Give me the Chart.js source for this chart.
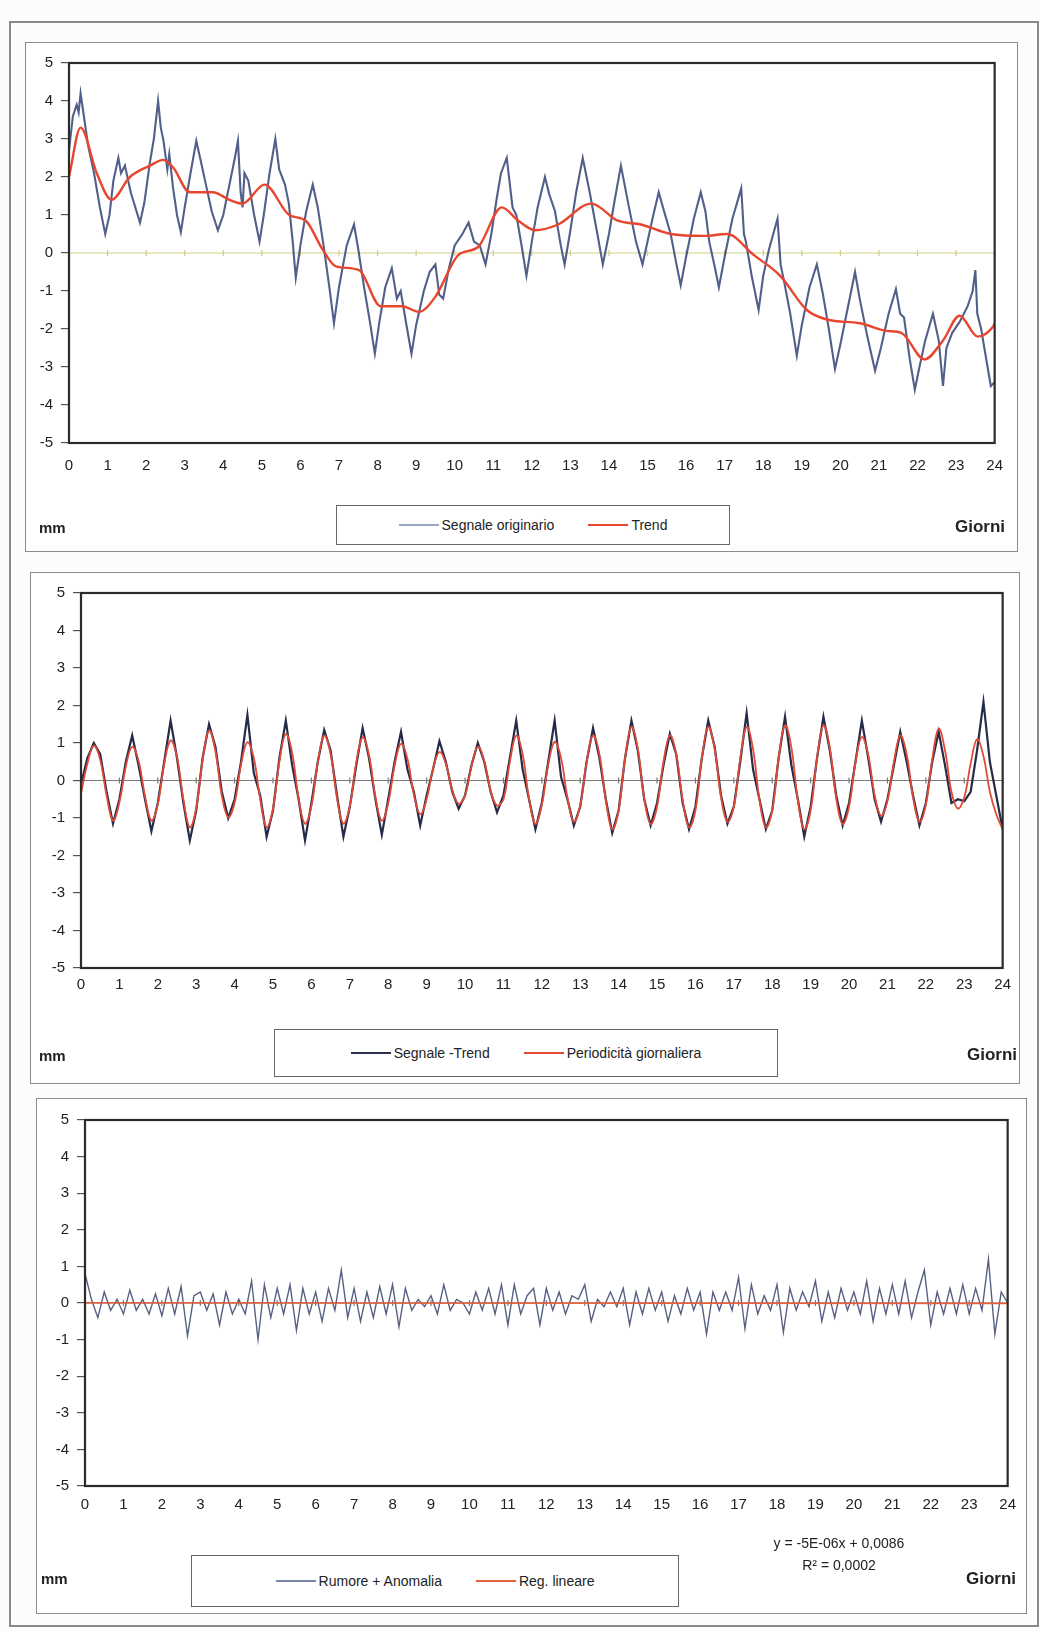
<!DOCTYPE html>
<html>
<head>
<meta charset="utf-8">
<script src="https://cdn.jsdelivr.net/npm/chart.js@4.4.0/dist/chart.umd.min.js"></script>
<style>
	body { margin: 0; background: #fcfcfa; width: 1040px; height: 1632px; position: relative; font-family: "Liberation Sans", Arial, sans-serif; }
	.cornice-esterna { position: absolute; left: 9px; top: 21px; width: 1026px; height: 1602px; border: 2px solid #8a8a8a; }
	.pannello { position: absolute; border: 1.5px solid #8c8c8c; background: #fff; }
	.pannello canvas { position: absolute; left: 0; top: 0; }
	.mm { position: absolute; font-weight: bold; font-size: 15px; color: #222; }
	.giorni { position: absolute; font-weight: bold; font-size: 17px; color: #222; text-align: right; }
	.legenda { position: absolute; border: 1.5px solid #666; background: #fff; display: flex; align-items: center; justify-content: center; gap: 34px;
		font-family: "Liberation Sans Narrow", "Liberation Sans", Arial, sans-serif; font-size: 14px; color: #222; }
	.voce { display: flex; align-items: center; gap: 3px; }
	.campione { display: inline-block; width: 40px; height: 0; border-top: 2px solid #000; }
	.equazione { position: absolute; font-family: "Liberation Sans Narrow", "Liberation Sans", Arial, sans-serif; font-size: 14px; color: #222; text-align: center; width: 200px; }
</style>
</head>
<body>
<div class="cornice-esterna"></div>

<div class="pannello" id="p1" style="left:25px; top:42px; width:991px; height:508px;">
	<canvas id="grafico1" width="991" height="508"></canvas>
	<div class="mm" style="left:13px; top:476px;">mm</div>
	<div class="legenda" style="left:310px; top:462px; width:392px; height:38px;">
		<span class="voce"><span class="campione" style="border-color:#9aa6c8"></span>Segnale originario</span>
		<span class="voce"><span class="campione" style="border-color:#e8462e"></span>Trend</span>
	</div>
	<div class="giorni" style="right:12px; top:474px;">Giorni</div>
</div>

<div class="pannello" id="p2" style="left:30px; top:572px; width:988px; height:510px;">
	<canvas id="grafico2" width="988" height="510"></canvas>
	<div class="mm" style="left:8px; top:474px;">mm</div>
	<div class="legenda" style="left:243px; top:456px; width:502px; height:46px;">
		<span class="voce"><span class="campione" style="border-color:#2a3050; border-top-width:2.5px"></span>Segnale -Trend</span>
		<span class="voce"><span class="campione" style="border-color:#e04a36"></span>Periodicità giornaliera</span>
	</div>
	<div class="giorni" style="right:2px; top:472px;">Giorni</div>
</div>

<div class="pannello" id="p3" style="left:36px; top:1098px; width:989px; height:514px;">
	<canvas id="grafico3" width="989" height="514"></canvas>
	<div class="mm" style="left:4px; top:471px;">mm</div>
	<div class="legenda" style="left:154px; top:456px; width:486px; height:50px;">
		<span class="voce"><span class="campione" style="border-color:#7a86a8"></span>Rumore + Anomalia</span>
		<span class="voce"><span class="campione" style="border-color:#e8603a"></span>Reg. lineare</span>
	</div>
	<div class="equazione" style="left:702px; top:436px;">y = -5E-06x + 0,0086</div>
	<div class="equazione" style="left:702px; top:458px;">R² = 0,0002</div>
	<div class="giorni" style="right:10px; top:470px;">Giorni</div>
</div>

<script>
// etichette assi
const etichetteGiorni = ['0','1','2','3','4','5','6','7','8','9','10','11','12','13','14','15','16','17','18','19','20','21','22','23','24'];
const ticksY = [5, 4, 3, 2, 1, 0, -1, -2, -3, -4, -5];

// grafico 1: segnale originario (giorni / mm)
const segnaleX = [0.0,0.1,0.2,0.25,0.3,0.4,0.5,0.65,0.8,0.94,1.05,1.15,1.28,1.35,1.45,1.6,1.75,1.84,1.95,2.1,2.2,2.31,2.38,2.45,2.55,2.6,2.7,2.8,2.9,
	3.0,3.15,3.3,3.4,3.55,3.7,3.86,4.0,4.2,4.3,4.38,4.45,4.5,4.55,4.65,4.8,4.94,5.05,5.2,5.35,5.45,5.6,5.7,5.8,5.88,6.0,6.15,6.32,6.45,6.6,6.75,6.87,
	7.0,7.2,7.39,7.5,7.65,7.8,7.93,8.05,8.2,8.37,8.5,8.6,8.75,8.88,9.0,9.2,9.35,9.5,9.6,9.7,9.85,10.0,10.2,10.36,10.5,10.65,10.8,10.95,
	11.1,11.2,11.35,11.5,11.6,11.75,11.86,12.0,12.15,12.34,12.45,12.6,12.75,12.85,13.0,13.15,13.32,13.5,13.7,13.84,14.0,14.15,14.31,14.5,14.7,14.87,
	15.0,15.15,15.29,15.4,15.6,15.75,15.86,16.0,16.2,16.38,16.5,16.6,16.75,16.85,17.0,17.2,17.43,17.5,17.55,17.7,17.88,18.0,18.15,18.37,18.45,18.55,18.7,18.87,
	19.0,19.2,19.39,19.55,19.7,19.86,20.0,20.2,20.38,20.5,20.7,20.9,21.05,21.25,21.44,21.55,21.65,21.8,21.93,22.05,22.2,22.4,22.55,22.66,22.75,22.9,
	23.1,23.3,23.43,23.5,23.55,23.65,23.8,23.9,24.0];
const segnaleY = [2.7,3.6,3.9,3.7,4.2,3.5,2.8,2.1,1.2,0.5,1.0,1.9,2.5,2.1,2.3,1.6,1.1,0.8,1.3,2.4,3.0,4.0,3.3,2.95,2.2,2.6,1.7,1.0,0.55,
	1.2,2.1,2.95,2.5,1.8,1.1,0.6,1.0,2.0,2.5,2.95,1.6,1.2,2.1,1.9,1.0,0.3,1.0,2.1,3.0,2.2,1.8,1.3,0.3,-0.65,0.2,1.1,1.8,1.2,0.2,-0.9,-1.85,
	-0.9,0.2,0.75,0.1,-0.9,-1.8,-2.65,-1.8,-0.9,-0.4,-1.2,-1.0,-1.9,-2.65,-1.9,-1.0,-0.5,-0.3,-1.1,-1.2,-0.4,0.2,0.5,0.8,0.3,0.2,-0.3,0.5,
	1.5,2.1,2.5,1.2,1.0,0.1,-0.6,0.3,1.2,2.0,1.55,1.1,0.2,-0.3,0.6,1.6,2.5,1.6,0.5,-0.3,0.5,1.4,2.3,1.3,0.3,-0.3,
	0.3,1.0,1.6,1.2,0.5,-0.3,-0.85,-0.1,0.9,1.6,1.1,0.3,-0.4,-0.9,-0.1,0.9,1.7,0.5,0.3,-0.6,-1.5,-0.6,0.1,0.9,-0.3,-0.8,-1.6,-2.7,
	-1.9,-0.9,-0.3,-1.1,-2.0,-3.05,-2.4,-1.4,-0.5,-1.2,-2.2,-3.1,-2.5,-1.6,-0.95,-1.6,-1.7,-2.8,-3.6,-3.0,-2.3,-1.6,-2.3,-3.5,-2.5,-2.1,
	-1.8,-1.4,-1.0,-0.45,-1.6,-2.0,-2.9,-3.5,-3.4];

// grafico 1: trend
const trendX = [0,0.3,0.72,1.1,1.58,2.1,2.44,2.7,3.13,3.73,4.16,4.5,5.07,5.71,6.14,6.57,6.92,7.52,8.08,8.64,9.07,9.5,10.1,10.6,11.22,11.65,12.08,
	12.68,13.54,14.23,14.83,15.6,16.46,17.06,17.75,18.44,19.13,19.65,20.51,21.2,21.58,22.18,22.66,23.09,23.56,23.95,24];
const trendY = [2.0,3.3,2.1,1.4,2.0,2.3,2.45,2.25,1.6,1.6,1.4,1.3,1.8,1.0,0.85,0.1,-0.35,-0.45,-1.4,-1.4,-1.55,-1.15,-0.05,0.15,1.2,0.85,0.6,
	0.75,1.3,0.85,0.75,0.5,0.45,0.5,-0.05,-0.6,-1.5,-1.75,-1.85,-2.05,-2.1,-2.8,-2.3,-1.65,-2.2,-1.95,-1.85];

// grafici 2 e 3: campioni ogni 4 ore (6 al giorno)
const tempi = Array.from({ length: 145 }, (_, i) => i / 6);

const segnaleMenoTrend = [
	-0.10, 0.60, 1.00, 0.70, -0.30, -1.15,
	-0.50, 0.50, 1.20, 0.40, -0.50, -1.35,
	-0.60, 0.50, 1.60, 0.60, -0.60, -1.60,
	-0.80, 0.60, 1.50, 0.90, -0.30, -1.00,
	-0.50, 0.50, 1.75, 0.20, -0.40, -1.50,
	-0.80, 0.60, 1.60, 0.40, -0.50, -1.60,
	-0.60, 0.50, 1.35, 0.80, -0.40, -1.50,
	-0.70, 0.40, 1.40, 0.60, -0.50, -1.45,
	-0.50, 0.50, 1.30, 0.30, -0.30, -1.20,
	-0.40, 0.30, 1.05, 0.50, -0.30, -0.75,
	-0.40, 0.40, 1.00, 0.50, -0.30, -0.85,
	-0.40, 0.60, 1.60, 0.30, -0.50, -1.30,
	-0.60, 0.50, 1.60, 0.10, -0.50, -1.20,
	-0.70, 0.50, 1.40, 0.60, -0.50, -1.40,
	-0.80, 0.60, 1.60, 0.80, -0.50, -1.20,
	-0.60, 0.40, 1.25, 0.70, -0.60, -1.30,
	-0.70, 0.60, 1.60, 0.90, -0.40, -1.15,
	-0.70, 0.50, 1.80, 0.30, -0.50, -1.30,
	-0.80, 0.60, 1.70, 0.40, -0.50, -1.50,
	-0.70, 0.60, 1.70, 0.80, -0.40, -1.20,
	-0.60, 0.50, 1.60, 0.60, -0.50, -1.10,
	-0.50, 0.40, 1.30, 0.50, -0.40, -1.20,
	-0.60, 0.50, 1.30, 0.40, -0.60, -0.50,
	-0.55, -0.30, 0.80, 2.10, 0.50, -0.40,
	-1.30
];

const periodicita = [
	-0.35, 0.45, 0.93, 0.55, -0.40, -1.07,
	-0.58, 0.37, 0.90, 0.52, -0.42, -1.07,
	-0.63, 0.44, 1.07, 0.63, -0.50, -1.25,
	-0.74, 0.55, 1.33, 0.78, -0.40, -0.98,
	-0.60, 0.42, 1.02, 0.60, -0.50, -1.25,
	-0.74, 0.51, 1.24, 0.73, -0.47, -1.15,
	-0.68, 0.49, 1.20, 0.70, -0.47, -1.15,
	-0.68, 0.47, 1.15, 0.68, -0.44, -1.07,
	-0.60, 0.40, 0.98, 0.58, -0.37, -0.90,
	-0.50, 0.31, 0.76, 0.45, -0.25, -0.62,
	-0.40, 0.37, 0.90, 0.53, -0.27, -0.67,
	-0.50, 0.49, 1.20, 0.70, -0.48, -1.16,
	-0.65, 0.42, 1.03, 0.60, -0.45, -1.10,
	-0.66, 0.49, 1.20, 0.70, -0.53, -1.30,
	-0.80, 0.59, 1.43, 0.84, -0.48, -1.16,
	-0.70, 0.49, 1.20, 0.70, -0.51, -1.25,
	-0.80, 0.59, 1.43, 0.84, -0.45, -1.10,
	-0.70, 0.59, 1.43, 0.84, -0.51, -1.25,
	-0.80, 0.60, 1.47, 0.87, -0.53, -1.30,
	-0.80, 0.60, 1.47, 0.87, -0.48, -1.16,
	-0.70, 0.48, 1.16, 0.68, -0.39, -0.94,
	-0.55, 0.49, 1.20, 0.70, -0.45, -1.10,
	-0.65, 0.57, 1.38, 0.80, -0.30, -0.75,
	-0.45, 0.45, 1.10, 0.65, -0.30, -0.90,
	-1.30
];

const rumore = [
	0.80, 0.10, -0.40, 0.30, -0.20, 0.10,
	-0.30, 0.35, -0.20, 0.10, -0.30, 0.25,
	-0.35, 0.40, -0.30, 0.45, -0.90, 0.20,
	0.30, -0.20, 0.25, -0.60, 0.30, -0.30,
	0.10, -0.30, 0.60, -1.00, 0.50, -0.40,
	0.40, -0.30, 0.50, -0.75, 0.40, -0.30,
	0.30, -0.50, 0.40, -0.20, 0.90, -0.40,
	0.40, -0.50, 0.30, -0.40, 0.45, -0.30,
	0.50, -0.65, 0.40, -0.20, 0.10, -0.10,
	0.20, -0.30, 0.50, -0.20, 0.10, 0.00,
	-0.30, 0.30, -0.20, 0.40, -0.30, 0.50,
	-0.60, 0.50, -0.30, 0.20, 0.40, -0.60,
	0.40, -0.20, 0.30, -0.30, 0.20, 0.10,
	0.50, -0.50, 0.10, -0.10, 0.30, -0.10,
	0.40, -0.60, 0.30, -0.30, 0.40, -0.20,
	0.30, -0.50, 0.20, -0.30, 0.40, -0.20,
	0.30, -0.85, 0.30, -0.20, 0.30, -0.20,
	0.70, -0.70, 0.50, -0.30, 0.20, -0.20,
	0.50, -0.80, 0.40, -0.20, 0.30, -0.10,
	0.60, -0.50, 0.30, -0.40, 0.40, -0.20,
	0.30, -0.30, 0.60, -0.50, 0.40, -0.30,
	0.50, -0.30, 0.60, -0.40, 0.30, 0.90,
	-0.60, 0.30, -0.30, 0.40, -0.30, 0.50,
	-0.30, 0.40, -0.20, 1.20, -0.85, 0.30,
	0.00
];

// retta di regressione (estremi)
const regX = [0, 24];
const regY = [0.0086, -0.01];

function punti(xs, ys) {
	return xs.map((x, i) => ({ x: x, y: ys[i] }));
}

// cornice dell'area grafico + asse dello zero con tacche giornaliere
const corniceExcel = {
	id: 'corniceExcel',
	beforeDatasetsDraw(chart, args, opts) {
		const ctx = chart.ctx;
		const area = chart.chartArea;
		const sx = chart.scales.x;
		const y0 = chart.scales.y.getPixelForValue(0);
		ctx.save();
		ctx.strokeStyle = opts.coloreZero || '#888';
		ctx.lineWidth = 1.2;
		ctx.beginPath();
		ctx.moveTo(area.left, y0);
		ctx.lineTo(area.right, y0);
		etichetteGiorni.forEach(g => {
			const px = sx.getPixelForValue(Number(g));
			ctx.moveTo(px, y0 - 3);
			ctx.lineTo(px, y0 + 3);
		});
		ctx.stroke();
		ctx.restore();
	},
	afterDatasetsDraw(chart) {
		const ctx = chart.ctx;
		const area = chart.chartArea;
		ctx.save();
		ctx.strokeStyle = '#2b2b2b';
		ctx.lineWidth = 2.2;
		ctx.strokeRect(area.left, area.top, area.right - area.left, area.bottom - area.top);
		ctx.restore();
	}
};

function creaGrafico(idCanvas, datasets, lay) {
	const ctx = document.getElementById(idCanvas);
	return new Chart(ctx, {
		type: 'line',
		data: { datasets: datasets },
		plugins: [corniceExcel],
		options: {
			responsive: false,
			animation: false,
			layout: { padding: { left: 0, right: lay.destra, top: lay.sopra, bottom: lay.sotto } },
			plugins: {
				legend: { display: false },
				tooltip: { enabled: false },
				corniceExcel: { coloreZero: lay.coloreZero }
			},
			elements: { point: { radius: 0 } },
			scales: {
				x: {
					type: 'linear',
					min: 0,
					max: 24,
					afterBuildTicks: (s) => { s.ticks = etichetteGiorni.map(v => ({ value: Number(v) })); },
					ticks: {
						autoSkip: false,
						maxRotation: 0,
						padding: lay.padX,
						color: '#222',
						font: { family: '"Liberation Sans Narrow", "Liberation Sans", Arial', size: 15 },
						callback: (v) => etichetteGiorni[v]
					},
					grid: { display: false, drawTicks: false },
					border: { display: false },
					afterFit: (s) => { s.height = lay.altezzaX; }
				},
				y: {
					min: -5,
					max: 5,
					afterBuildTicks: (s) => { s.ticks = ticksY.map(v => ({ value: v })); },
					ticks: {
						padding: 8,
						color: '#222',
						font: { family: '"Liberation Sans", Arial', size: 15 }
					},
					grid: { drawOnChartArea: false, drawTicks: true, tickLength: 8, color: '#555', lineWidth: 1.2 },
					border: { display: false },
					afterFit: (s) => { s.width = lay.larghezzaY; }
				}
			}
		}
	});
}

window.onload = () => {
	creaGrafico('grafico1', [
		{ data: punti(trendX, trendY), borderColor: '#e8462e', borderWidth: 2.4, tension: 0.4, cubicInterpolationMode: 'monotone', order: 0 },
		{ data: punti(segnaleX, segnaleY), borderColor: 'rgba(62,78,125,0.9)', borderWidth: 2.1, tension: 0, order: 1 }
	], { destra: 14, sopra: 20, sotto: 78, altezzaX: 30, larghezzaY: 43, padX: 14, coloreZero: '#cfcf86' });

	creaGrafico('grafico2', [
		{ data: punti(tempi, periodicita), borderColor: '#e04a36', borderWidth: 1.8, tension: 0.4, order: 0 },
		{ data: punti(tempi, segnaleMenoTrend), borderColor: '#252b48', borderWidth: 2.2, tension: 0, order: 1 }
	], { destra: 10, sopra: 20, sotto: 85, altezzaX: 30, larghezzaY: 50, padX: 8, coloreZero: '#7a7a7a' });

	creaGrafico('grafico3', [
		{ data: punti(regX, regY), borderColor: '#e8603a', borderWidth: 1.6, tension: 0, order: 0 },
		{ data: punti(tempi, rumore), borderColor: 'rgba(58,68,108,0.85)', borderWidth: 1.4, tension: 0, order: 1 }
	], { destra: 17, sopra: 21, sotto: 97, altezzaX: 30, larghezzaY: 48, padX: 10, coloreZero: '#7a7a7a' });
};
</script>
</body>
</html>
